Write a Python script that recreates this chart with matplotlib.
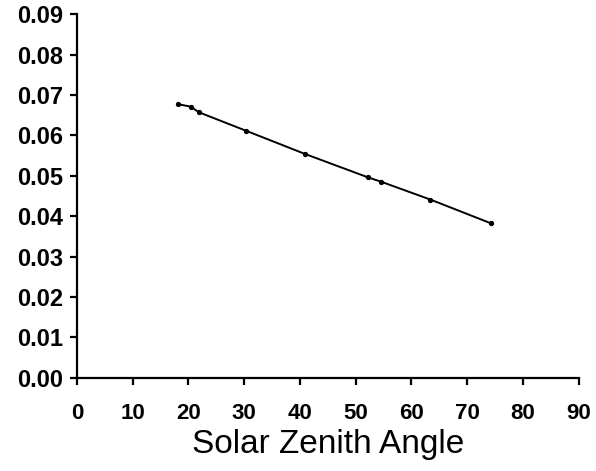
import matplotlib
matplotlib.use("Agg")
import matplotlib.pyplot as plt

# values
zenith_angle = [18.2, 20.4, 21.9, 30.4, 40.9, 52.2, 54.6, 63.4, 74.3]
ratio = [0.0677, 0.0671, 0.0657, 0.0611, 0.0554, 0.0496, 0.0485, 0.0441, 0.0382]
x_ticks = [0, 10, 20, 30, 40, 50, 60, 70, 80, 90]
y_ticks = [0.00, 0.01, 0.02, 0.03, 0.04, 0.05, 0.06, 0.07, 0.08, 0.09]

plt.rcParams['font.family'] = ['Liberation Sans', 'DejaVu Sans']

fig = plt.figure(figsize=(5.96, 4.71), dpi=100)
ax = fig.add_axes([0.129, 0.198, 0.842, 0.772])

ax.plot(zenith_angle, ratio, color='black', lw=1.4, marker='o', ms=2.8)

ax.set_xlim(0, 90)
ax.set_ylim(0, 0.09)
ax.set_xticks(x_ticks)
ax.set_yticks(y_ticks)
ax.set_xticklabels([str(t) for t in x_ticks], fontsize=16, fontweight='bold')
ax.set_yticklabels(['%.2f' % t for t in y_ticks], fontsize=17, fontweight='bold')

ax.spines['top'].set_visible(False)
ax.spines['right'].set_visible(False)
ax.spines['left'].set_linewidth(1.6)
ax.spines['bottom'].set_linewidth(1.6)
ax.tick_params(axis='both', direction='out', length=5, width=1.6)
ax.tick_params(axis='x', pad=13)
ax.tick_params(axis='y', pad=5)

ax.set_xlabel('Solar Zenith Angle', fontsize=24, labelpad=4)

fig.savefig('out.png', dpi=100)
